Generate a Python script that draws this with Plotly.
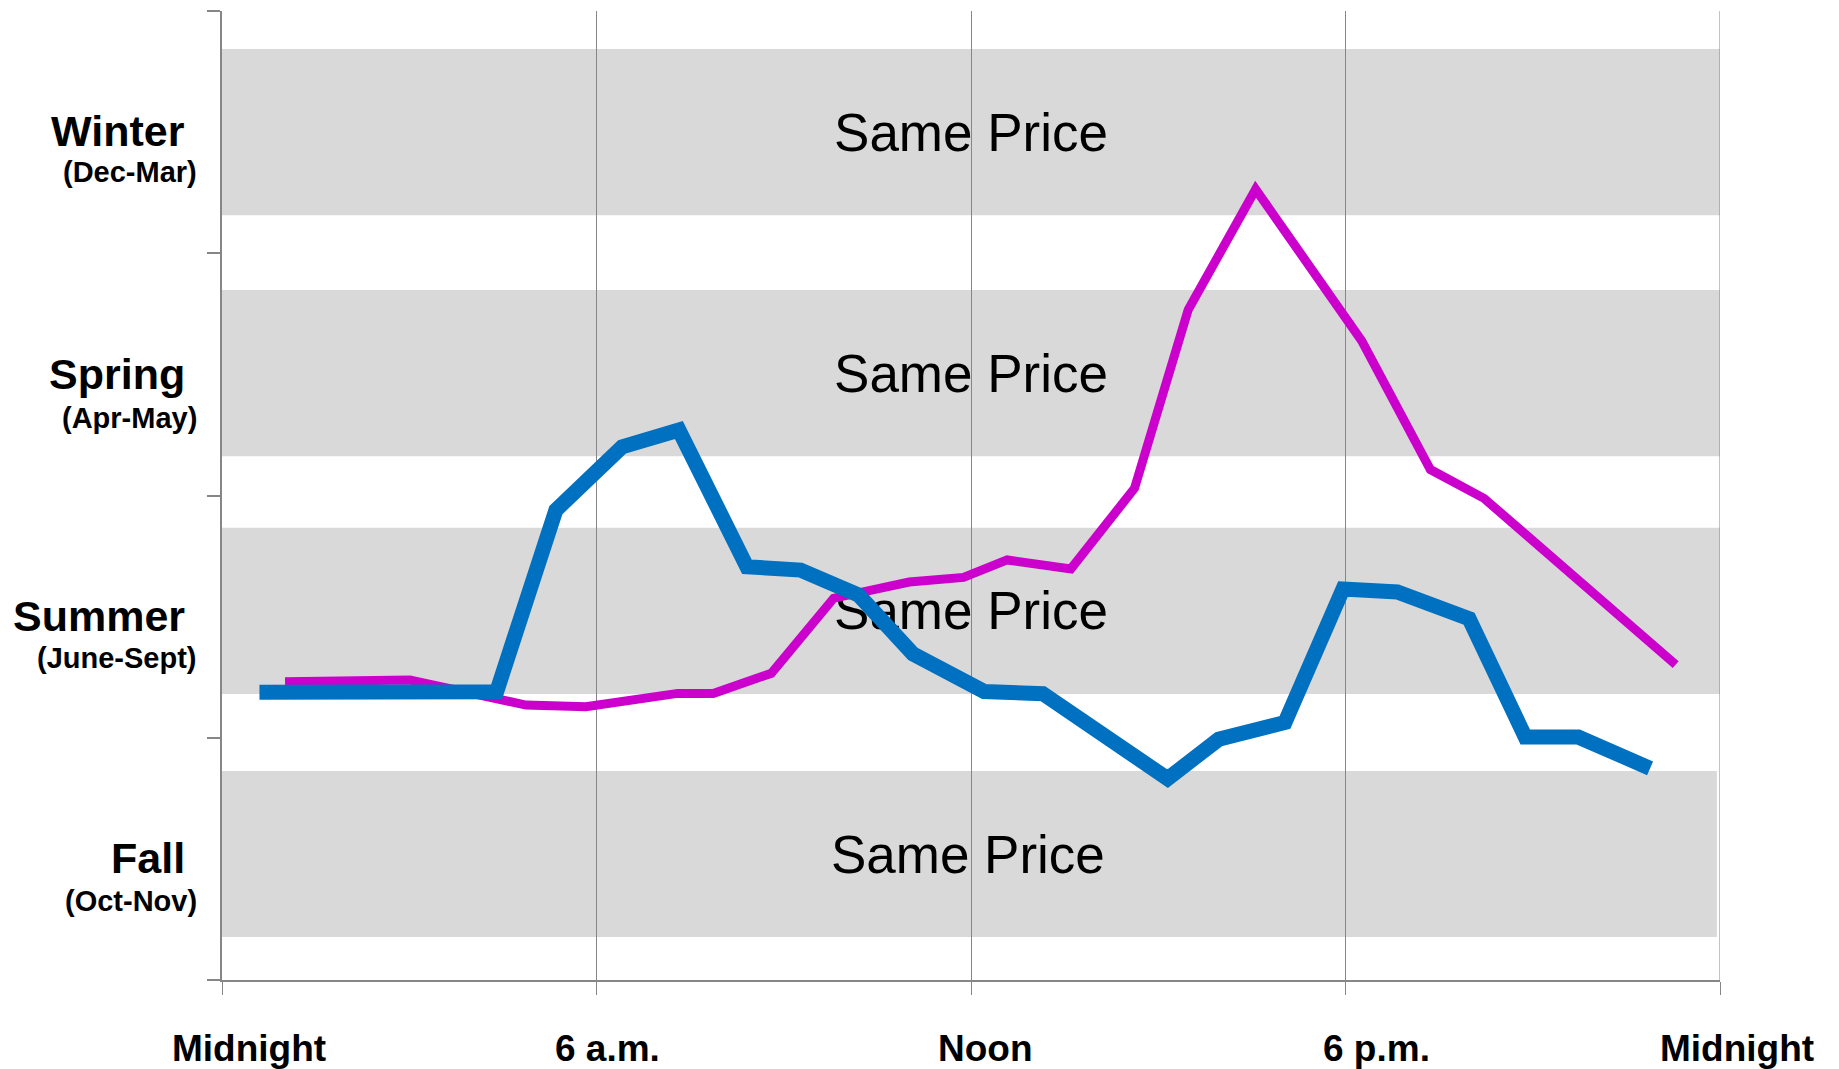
import plotly.graph_objects as go

# ---------------- data ----------------
seasons = ["Winter", "Spring", "Summer", "Fall"]
season_months = ["(Dec-Mar)", "(Apr-May)", "(June-Sept)", "(Oct-Nov)"]
band_text = ["Same Price", "Same Price", "Same Price", "Same Price"]

time_labels = ["Midnight", "6 a.m.", "Noon", "6 p.m.", "Midnight"]
time_ticks = [0, 6, 12, 18, 24]

magenta_hours = [1.01, 3.01, 4.87, 5.83, 7.30, 7.87, 8.80, 9.80, 11.01, 11.88,
                 12.58, 13.60, 14.62, 15.48, 16.56, 18.26, 19.36, 20.22, 23.29]
magenta_values = [1.231, 1.238, 1.135, 1.128, 1.183, 1.183, 1.266, 1.576, 1.643, 1.662,
                  1.734, 1.697, 2.030, 2.767, 3.264, 2.638, 2.107, 1.988, 1.302]

blue_hours = [0.60, 4.40, 5.35, 6.41, 7.32, 8.41, 9.27, 10.20, 11.07, 12.21,
              13.15, 15.15, 15.97, 17.03, 17.96, 18.83, 19.98, 20.88, 21.73, 22.88]
blue_values = [1.188, 1.190, 1.940, 2.201, 2.270, 1.706, 1.692, 1.589, 1.346, 1.191,
               1.182, 0.831, 0.994, 1.063, 1.614, 1.602, 1.491, 1.003, 1.003, 0.874]

# ---------------- layout constants ----------------
AXIS = "#868686"
BAND = "#D9D9D9"
FONT = "Arial, Liberation Sans, sans-serif"
BAND_CENTERS = [3.5, 2.505, 1.524, 0.52]
BAND_HALF = 0.343
BAND_RIGHT = [24, 24, 24, 23.95]
TEXT_X = [12, 12, 12, 11.95]
LABEL_X = [0.43, 6.17, 12.24, 18.50, 24.27]
SEASON_Y = [3.5, 2.5, 1.5, 0.5]
SUB_OFFSET = [0.165, 0.179, 0.170, 0.174]

fig = go.Figure()

# "Same Price" labels (below the lines)
fig.add_trace(go.Scatter(
    x=TEXT_X, y=[c - 0.022 for c in BAND_CENTERS],
    mode="text", text=band_text, textposition="middle center",
    textfont=dict(family=FONT, size=53, color="black"),
    hoverinfo="skip", showlegend=False))

fig.add_trace(go.Scatter(
    x=magenta_hours, y=magenta_values, mode="lines",
    line=dict(color="#CC00CC", width=9), showlegend=False))

fig.add_trace(go.Scatter(
    x=blue_hours, y=blue_values, mode="lines",
    line=dict(color="#0070C0", width=15), showlegend=False))

shapes = []
for c, xr in zip(BAND_CENTERS, BAND_RIGHT):
    shapes.append(dict(type="rect", xref="x", yref="y",
                       x0=0, x1=xr, y0=c - BAND_HALF, y1=c + BAND_HALF,
                       fillcolor=BAND, line=dict(width=0), layer="below"))
# right-edge gridline at midnight
shapes.append(dict(type="line", xref="x", yref="y", x0=24, x1=24, y0=0, y1=4,
                   line=dict(color=AXIS, width=1), layer="below"))

annotations = []
for name, months, c, off in zip(seasons, season_months, SEASON_Y, SUB_OFFSET):
    annotations.append(dict(x=0, y=c + 0.003, xref="x", yref="y", xshift=-35,
                            xanchor="right", yanchor="middle", showarrow=False,
                            text="<b>%s</b>" % name,
                            font=dict(family=FONT, size=43, color="black")))
    annotations.append(dict(x=0, y=c - off, xref="x", yref="y", xshift=-23,
                            xanchor="right", yanchor="middle", showarrow=False,
                            text="<b>%s</b>" % months,
                            font=dict(family=FONT, size=29, color="black")))

for lab, lx in zip(time_labels, LABEL_X):
    annotations.append(dict(x=lx / 24, y=-0.0705, xref="paper", yref="paper",
                            xanchor="center", yanchor="middle", showarrow=False,
                            text="<b>%s</b>" % lab,
                            font=dict(family=FONT, size=37, color="black")))

fig.update_layout(
    width=1839, height=1069,
    margin=dict(l=222, r=119, t=11, b=89),
    paper_bgcolor="white", plot_bgcolor="white",
    shapes=shapes, annotations=annotations,
    xaxis=dict(range=[0, 24], tickvals=time_ticks, showticklabels=False,
               ticks="outside", ticklen=13, tickcolor=AXIS, tickwidth=1,
               showgrid=True, gridcolor=AXIS, gridwidth=1,
               showline=True, linecolor=AXIS, linewidth=2, zeroline=False,
               fixedrange=True),
    yaxis=dict(range=[0, 4], tickvals=[0, 1, 2, 3, 4], showticklabels=False,
               ticks="outside", ticklen=13, tickcolor=AXIS, tickwidth=2,
               showgrid=False, showline=True, linecolor=AXIS, linewidth=2,
               zeroline=False, fixedrange=True),
)

fig.write_html("out.html")
